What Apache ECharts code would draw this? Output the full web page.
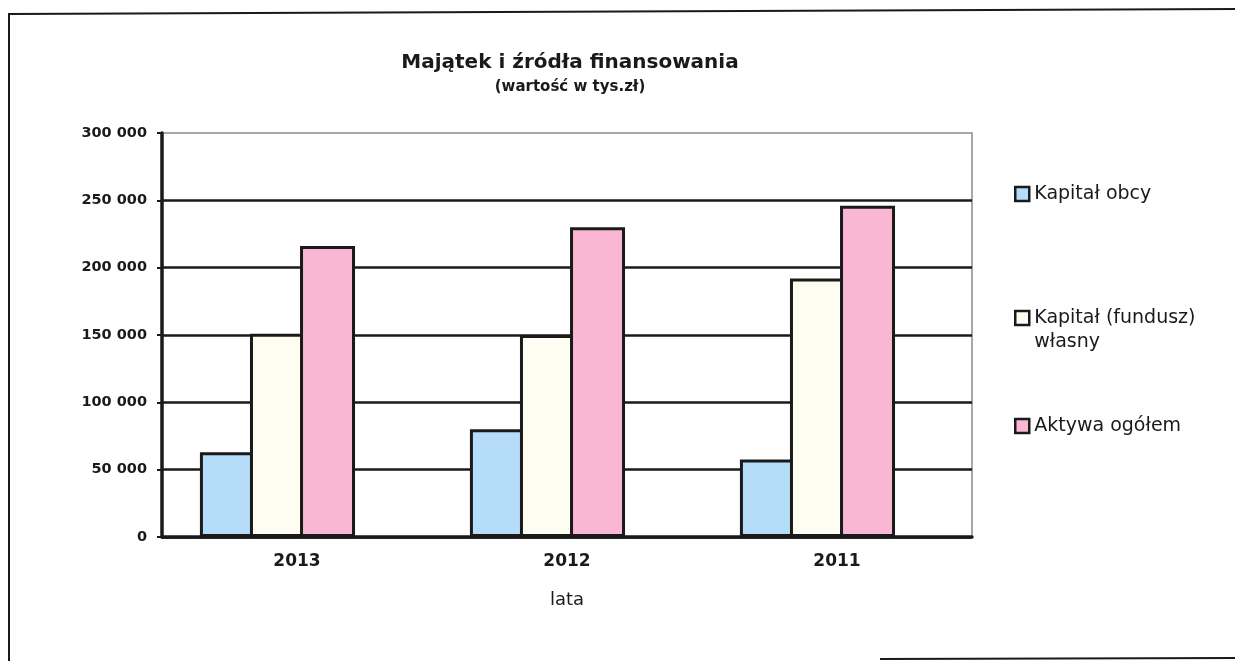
<!DOCTYPE html>
<html>
<head>
  <meta charset="utf-8">
  <title>Majątek i źródła finansowania</title>
  <script src="https://cdn.jsdelivr.net/npm/echarts@6/dist/echarts.min.js"></script>
  <style>
    html, body { margin: 0; padding: 0; background: #ffffff; }
    #chart { width: 1235px; height: 661px; }
  </style>
</head>
<body>
<div id="chart"></div>
<script>
  // lata
  const years = ['2013', '2012', '2011'];
  // wartość w tys. zł
  const kapitalObcy = [63000, 80000, 57500];
  const kapitalWlasny = [151000, 150000, 192000];
  const aktywaOgolem = [216000, 230000, 246000];
  const yTicks = [0, 50000, 100000, 150000, 200000, 250000, 300000];

  const seriesNames = ['Kapitał obcy', 'Kapitał (fundusz) własny', 'Aktywa ogółem'];
  const colors = ['#b5dcf8', '#fdfdf2', '#f9b7d4'];

  const fmt = v => String(v).replace(/\B(?=(\d{3})+(?!\d))/g, ' ');

  const chart = echarts.init(document.getElementById('chart'));

  const legendBase = {
    orient: 'vertical',
    icon: 'rect',
    itemWidth: 14,
    itemHeight: 14,
    itemGap: 5,
    selectedMode: false,
    itemStyle: {borderColor: '#1a1a1a', borderWidth: 2.5},
    textStyle: {
      fontFamily: 'DejaVu Sans',
      fontSize: 19,
      lineHeight: 24,
      color: '#1a1a1a'
    }
  };

  const barStyle = i => ({color: colors[i], borderColor: '#1a1a1a', borderWidth: 3});

  const option = {
    animation: false,
    backgroundColor: '#ffffff',
    title: {
      text: 'Majątek i źródła finansowania',
      subtext: '(wartość w tys.zł)',
      left: 565,
      textAlign: 'center',
      top: 48,
      itemGap: 7,
      textStyle: {
        fontFamily: 'DejaVu Sans',
        fontWeight: 'bold',
        fontSize: 20,
        color: '#1a1a1a'
      },
      subtextStyle: {
        fontFamily: 'DejaVu Sans',
        fontWeight: 'bold',
        fontSize: 15,
        color: '#1a1a1a'
      }
    },
    legend: [
      Object.assign({}, legendBase, {data: [seriesNames[0]], left: 1009, top: 177}),
      // empty first line keeps the icon level with "Kapitał (fundusz)"
      Object.assign({}, legendBase, {
        data: [seriesNames[1]], left: 1009, top: 277,
        formatter: () => ' \nKapitał (fundusz)\nwłasny'
      }),
      Object.assign({}, legendBase, {data: [seriesNames[2]], left: 1009, top: 409})
    ],
    grid: {
      left: 162,
      right: 263,
      top: 133,
      bottom: 124,
      show: true,
      borderColor: '#8a8a8a',
      borderWidth: 1.5
    },
    xAxis: {
      type: 'category',
      data: years,
      name: 'lata',
      nameLocation: 'middle',
      nameGap: 54,
      nameTextStyle: {
        fontFamily: 'DejaVu Sans',
        fontSize: 18,
        color: '#1a1a1a'
      },
      axisLine: {lineStyle: {color: '#1a1a1a', width: 3.5}},
      axisTick: {length: 6, lineStyle: {color: '#1a1a1a', width: 2}},
      axisLabel: {
        margin: 16,
        fontFamily: 'DejaVu Sans',
        fontWeight: 'bold',
        fontSize: 17,
        color: '#1a1a1a'
      }
    },
    yAxis: {
      type: 'value',
      min: yTicks[0],
      max: yTicks[yTicks.length - 1],
      interval: yTicks[1] - yTicks[0],
      axisLine: {show: true, lineStyle: {color: '#1a1a1a', width: 3.5}},
      axisTick: {show: true, length: 5, lineStyle: {color: '#1a1a1a', width: 2}},
      axisLabel: {
        margin: 15,
        formatter: fmt,
        fontFamily: 'DejaVu Sans',
        fontWeight: 'bold',
        fontSize: 14.5,
        color: '#1a1a1a'
      },
      splitLine: {
        lineStyle: {
          color: ['#1a1a1a', '#1a1a1a', '#1a1a1a', '#1a1a1a', '#1a1a1a', '#1a1a1a', 'transparent'],
          width: 2.5
        }
      }
    },
    series: [
      {name: seriesNames[0], type: 'bar', data: kapitalObcy, barWidth: 55, barGap: '-9%', itemStyle: barStyle(0)},
      {name: seriesNames[1], type: 'bar', data: kapitalWlasny, barWidth: 55, barGap: '-9%', itemStyle: barStyle(1)},
      {name: seriesNames[2], type: 'bar', data: aktywaOgolem, barWidth: 55, barGap: '-9%', itemStyle: barStyle(2)},
      // empty slot, Excel leaves room for it so the groups sit left of the ticks
      {name: '', type: 'bar', data: [null, null, null], barWidth: 44, barGap: '-9%', silent: true}
    ],
    graphic: [
      {
        type: 'polyline',
        shape: {points: [[9, 661], [9, 14], [1235, 9]]},
        style: {stroke: '#1a1a1a', lineWidth: 2, fill: null}
      },
      {
        type: 'polyline',
        shape: {points: [[880, 659], [1235, 658]]},
        style: {stroke: '#1a1a1a', lineWidth: 2, fill: null}
      }
    ]
  };

  chart.setOption(option);

  window.onresize = function () {
    chart.resize();
  };
</script>
</body>
</html>
